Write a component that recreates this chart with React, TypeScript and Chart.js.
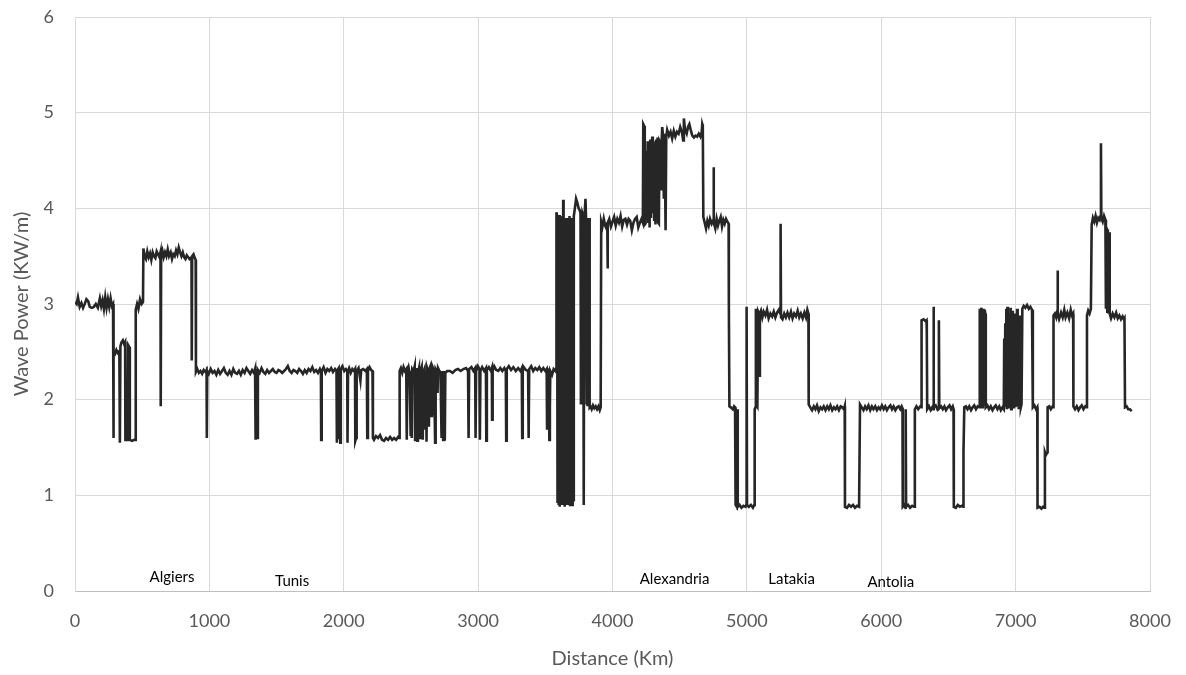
import React, { useEffect, useRef } from "react";
import { Chart, registerables } from "chart.js";

Chart.register(...registerables);

type Pt = [number, number];

// Distance (km), wave power (kW/m), leg by leg
const algiersLeg: Pt[] = [
  [0, 3.02], [12, 3.0], [22, 3.07], [35, 2.97], [48, 3.01], [60, 2.96], [72, 3.0], [85, 3.05], [98, 3.03], [110, 2.97],
  [125, 2.96], [140, 2.97], [155, 3.0], [170, 2.96], [185, 3.06], [195, 2.98], [205, 3.04], [215, 2.95], [225, 3.07], [235, 2.96],
  [245, 3.05], [255, 2.97], [265, 3.06], [275, 2.98], [283, 3.0], [285, 1.6], [289, 2.5], [298, 2.48], [308, 2.52], [318, 2.49],
  [330, 2.51], [334, 1.55], [338, 2.56], [346, 2.6], [356, 2.62], [366, 2.58], [373, 2.6], [375, 1.58], [392, 1.58], [396, 2.57],
  [404, 2.55], [408, 1.58], [425, 1.57], [440, 1.58], [450, 1.58], [452, 2.94], [462, 3.0], [472, 2.95], [484, 3.05], [496, 3.0],
  [506, 3.02], [509, 3.58], [518, 3.5], [528, 3.47], [538, 3.55], [548, 3.49], [558, 3.53], [568, 3.46], [578, 3.54], [588, 3.5],
  [598, 3.48], [608, 3.55], [618, 3.52], [628, 3.49], [636, 3.54], [638, 1.93], [641, 3.52], [650, 3.56], [660, 3.49], [670, 3.54],
  [680, 3.5], [690, 3.57], [700, 3.5], [712, 3.54], [722, 3.47], [732, 3.52], [742, 3.5], [752, 3.56], [762, 3.52], [772, 3.59],
  [782, 3.54], [792, 3.5], [802, 3.54], [812, 3.49], [822, 3.47], [832, 3.51], [842, 3.49], [852, 3.47], [860, 3.48], [867, 3.46],
  [869, 2.41], [872, 3.5], [882, 3.52], [892, 3.48], [898, 3.46],
];

const tunisLeg: Pt[] = [
  [900, 2.29], [910, 2.32], [922, 2.28], [934, 2.3], [946, 2.27], [958, 2.31], [970, 2.29], [979, 2.31], [981, 1.6], [984, 2.3],
  [996, 2.27], [1010, 2.32], [1024, 2.28], [1038, 2.3], [1052, 2.26], [1066, 2.31], [1080, 2.27], [1094, 2.3], [1108, 2.33], [1122, 2.28],
  [1136, 2.26], [1150, 2.3], [1164, 2.26], [1178, 2.32], [1192, 2.28], [1206, 2.27], [1220, 2.3], [1234, 2.26], [1248, 2.31], [1262, 2.28],
  [1276, 2.33], [1290, 2.3], [1304, 2.27], [1318, 2.31], [1332, 2.28], [1340, 2.32], [1342, 1.58], [1346, 2.3], [1352, 2.27], [1357, 1.6],
  [1361, 2.31], [1374, 2.28], [1388, 2.33], [1402, 2.29], [1416, 2.27], [1430, 2.31], [1444, 2.28], [1458, 2.3], [1472, 2.32], [1486, 2.29],
  [1500, 2.28], [1514, 2.31], [1528, 2.3], [1542, 2.28], [1556, 2.3], [1570, 2.32], [1584, 2.35], [1598, 2.3], [1612, 2.28], [1626, 2.31],
  [1640, 2.3], [1654, 2.28], [1668, 2.32], [1682, 2.3], [1696, 2.27], [1710, 2.31], [1724, 2.28], [1738, 2.32], [1752, 2.3], [1766, 2.34],
  [1780, 2.29], [1794, 2.31], [1808, 2.28], [1822, 2.32], [1830, 2.29], [1832, 1.58], [1836, 2.3], [1850, 2.34], [1864, 2.28], [1878, 2.32],
  [1892, 2.3], [1906, 2.33], [1920, 2.29], [1935, 2.32], [1946, 2.3], [1949, 1.55], [1953, 2.31], [1962, 2.33], [1966, 1.6], [1970, 2.3],
  [1974, 1.55], [1978, 2.32], [1990, 2.35], [2004, 2.3], [2016, 2.32], [2026, 2.3], [2028, 1.55], [2032, 2.3], [2040, 2.33], [2052, 2.28],
  [2064, 2.32], [2076, 2.3], [2084, 2.32], [2086, 1.57], [2092, 1.6], [2096, 2.3], [2110, 2.33], [2124, 2.2], [2130, 2.31], [2145, 2.32],
  [2160, 2.3], [2172, 2.32], [2175, 1.6], [2180, 2.3], [2192, 2.34], [2204, 2.31], [2214, 2.3], [2217, 1.6], [2225, 1.58], [2240, 1.62],
  [2255, 1.6], [2270, 1.63], [2285, 1.58], [2300, 1.57], [2315, 1.6], [2330, 1.58], [2345, 1.61], [2360, 1.58], [2375, 1.6], [2390, 1.58],
  [2405, 1.61], [2413, 1.6],
];

const centralLeg: Pt[] = [
  [2416, 2.3], [2425, 2.33], [2435, 2.28], [2445, 2.34], [2455, 2.3], [2465, 2.32], [2469, 1.58], [2473, 2.3], [2482, 2.34], [2490, 2.28],
  [2498, 1.62], [2502, 2.3], [2506, 1.6], [2510, 2.32], [2520, 2.3], [2528, 2.35], [2531, 1.58], [2535, 2.3], [2539, 1.62], [2543, 2.33],
  [2548, 1.57], [2552, 2.28], [2560, 2.33], [2568, 1.6], [2572, 2.3], [2580, 2.34], [2588, 1.58], [2592, 2.29], [2600, 2.32], [2608, 1.7],
  [2612, 2.3], [2616, 1.56], [2620, 2.33], [2626, 2.3], [2630, 1.73], [2634, 2.31], [2645, 2.35], [2652, 1.83], [2656, 2.3], [2660, 1.85],
  [2664, 2.33], [2672, 2.3], [2680, 1.55], [2684, 2.32], [2692, 2.3], [2698, 2.07], [2702, 2.33], [2712, 2.3], [2720, 2.28], [2728, 1.6],
  [2732, 2.3], [2740, 1.58], [2744, 2.3], [2752, 1.57], [2756, 2.28], [2770, 2.3], [2790, 2.3], [2810, 2.28], [2830, 2.31], [2850, 2.32],
  [2870, 2.3], [2890, 2.32], [2910, 2.33], [2925, 2.3], [2929, 1.6], [2933, 2.32], [2950, 2.34], [2965, 2.3], [2978, 2.33], [2981, 1.6],
  [2985, 2.3], [2998, 2.35], [3010, 2.32], [3013, 1.58], [3017, 2.3], [3030, 2.34], [3045, 2.3], [3058, 2.33], [3061, 1.57], [3065, 2.31],
  [3080, 2.34], [3095, 2.3], [3102, 2.33], [3104, 1.79], [3108, 2.3], [3120, 2.35], [3135, 2.31], [3150, 2.3], [3165, 2.33], [3180, 2.3],
  [3195, 2.33], [3206, 2.3], [3209, 1.57], [3213, 2.32], [3228, 2.35], [3245, 2.31], [3262, 2.34], [3280, 2.3], [3298, 2.33], [3315, 2.3],
  [3325, 2.33], [3328, 1.6], [3332, 2.3], [3340, 2.34], [3355, 2.31], [3372, 2.3], [3376, 1.6], [3380, 2.32], [3395, 2.35], [3410, 2.3],
  [3425, 2.33], [3440, 2.31], [3455, 2.34], [3470, 2.3], [3485, 2.33], [3500, 2.3], [3510, 2.32], [3513, 1.7], [3517, 2.3], [3524, 2.31],
  [3530, 1.58], [3534, 1.92], [3537, 2.3], [3550, 2.26], [3562, 2.32], [3575, 2.3], [3582, 2.33],
];

const alexandriaLeg: Pt[] = [
  [3583, 3.96], [3588, 3.92], [3591, 0.92], [3595, 3.9], [3599, 0.9], [3603, 3.93], [3607, 0.88], [3611, 3.9], [3615, 0.94], [3619, 3.88],
  [3623, 0.9], [3627, 3.92], [3631, 0.9], [3633, 4.09], [3636, 0.92], [3640, 3.9], [3644, 0.88], [3648, 3.88], [3652, 0.9], [3656, 3.9],
  [3660, 0.92], [3664, 3.85], [3668, 0.9], [3672, 3.9], [3676, 0.95], [3680, 3.92], [3684, 0.9], [3688, 3.88], [3692, 0.92], [3696, 3.9],
  [3700, 0.9], [3704, 3.9], [3708, 0.95], [3712, 3.92], [3720, 4.0], [3729, 4.1], [3738, 4.06], [3748, 4.0], [3756, 3.98], [3762, 3.95],
  [3765, 1.95], [3769, 3.92], [3773, 1.95], [3777, 3.95], [3782, 3.93], [3786, 0.9], [3790, 3.95], [3795, 4.0], [3799, 4.1], [3803, 3.9],
  [3806, 1.95], [3810, 3.9], [3814, 1.93], [3818, 3.85], [3822, 1.95], [3826, 3.9], [3830, 1.92], [3836, 1.93], [3845, 1.9], [3855, 1.94],
  [3865, 1.91], [3875, 1.93], [3885, 1.9], [3895, 1.93], [3905, 1.89], [3912, 1.92], [3916, 3.86], [3925, 3.81], [3935, 3.89], [3945, 3.82],
  [3955, 3.79], [3961, 3.85], [3963, 3.37], [3966, 3.85], [3976, 3.89], [3988, 3.81], [4000, 3.86], [4012, 3.91], [4024, 3.82], [4036, 3.89],
  [4048, 3.85], [4060, 3.92], [4072, 3.81], [4084, 3.88], [4096, 3.89], [4108, 3.83], [4120, 3.89], [4132, 3.87], [4144, 3.77], [4156, 3.85],
  [4168, 3.89], [4180, 3.91], [4192, 3.8], [4204, 3.85], [4216, 3.89], [4226, 3.85], [4229, 4.88], [4236, 4.86], [4240, 3.83], [4246, 3.84],
  [4250, 4.6], [4256, 3.9], [4262, 4.7], [4266, 3.86], [4271, 4.68], [4276, 3.8], [4281, 4.72], [4286, 3.9], [4291, 4.6], [4296, 4.75],
  [4300, 3.95], [4305, 4.7], [4310, 3.88], [4315, 4.65], [4320, 3.83], [4325, 4.72], [4330, 4.1], [4335, 4.74], [4340, 3.85], [4345, 3.84],
  [4350, 4.7], [4356, 4.68], [4362, 4.2], [4366, 4.72], [4370, 4.85], [4376, 4.76], [4382, 4.1], [4388, 4.78], [4395, 3.77], [4400, 4.75],
  [4407, 4.82], [4420, 4.76], [4432, 4.8], [4444, 4.73], [4456, 4.81], [4468, 4.75], [4480, 4.8], [4492, 4.78], [4504, 4.85], [4516, 4.8],
  [4526, 4.71], [4531, 4.94], [4540, 4.82], [4552, 4.78], [4562, 4.85], [4572, 4.88], [4582, 4.82], [4594, 4.76], [4606, 4.74], [4618, 4.76],
  [4630, 4.75], [4642, 4.78], [4654, 4.75], [4664, 4.8], [4668, 4.88], [4672, 4.86], [4676, 3.91], [4686, 3.85], [4696, 3.79], [4706, 3.87],
  [4716, 3.82], [4726, 3.89], [4738, 3.84], [4748, 3.87], [4752, 4.43], [4755, 3.85], [4765, 3.79], [4775, 3.89], [4785, 3.82], [4795, 3.87],
  [4805, 3.91], [4815, 3.81], [4825, 3.88], [4835, 3.84], [4845, 3.89], [4855, 3.86], [4864, 3.84], [4866, 2.96], [4870, 1.93], [4880, 1.92],
  [4895, 1.9], [4905, 1.93], [4912, 1.92],
];

const latakiaLeg: Pt[] = [
  [4916, 0.9], [4925, 0.88], [4929, 1.9], [4932, 0.88], [4945, 0.9], [4960, 0.87], [4975, 0.89], [4990, 0.88], [4996, 0.9], [4998, 2.97],
  [5001, 0.9], [5015, 0.88], [5030, 0.9], [5045, 0.87], [5055, 0.9], [5058, 1.9], [5064, 1.92], [5067, 2.95], [5071, 1.95], [5078, 1.93],
  [5084, 2.92], [5090, 2.9], [5093, 2.25], [5097, 2.9], [5105, 2.93], [5115, 2.86], [5125, 2.92], [5138, 2.88], [5150, 2.94], [5162, 2.85],
  [5175, 2.9], [5188, 2.87], [5200, 2.92], [5212, 2.86], [5225, 2.91], [5238, 2.94], [5248, 2.9], [5251, 3.84], [5254, 2.86], [5265, 2.84],
  [5278, 2.9], [5290, 2.86], [5302, 2.91], [5315, 2.86], [5328, 2.92], [5340, 2.85], [5352, 2.9], [5365, 2.87], [5378, 2.93], [5390, 2.86],
  [5402, 2.9], [5415, 2.85], [5428, 2.91], [5440, 2.86], [5450, 2.94], [5458, 2.9], [5460, 1.95], [5472, 1.92], [5485, 1.89], [5498, 1.93],
  [5510, 1.9], [5522, 1.94], [5535, 1.88], [5548, 1.92], [5560, 1.9], [5572, 1.93], [5585, 1.89], [5598, 1.93], [5610, 1.9], [5622, 1.94],
  [5635, 1.89], [5648, 1.92], [5660, 1.9], [5672, 1.93], [5685, 1.89], [5698, 1.93], [5710, 1.92], [5722, 1.9], [5728, 1.93],
];

const anatoliaLeg: Pt[] = [
  [5730, 0.88], [5745, 0.87], [5760, 0.9], [5775, 0.88], [5790, 0.9], [5805, 0.87], [5820, 0.89], [5835, 0.88], [5842, 1.95], [5855, 1.92],
  [5868, 1.89], [5880, 1.93], [5892, 1.9], [5905, 1.94], [5918, 1.89], [5930, 1.93], [5942, 1.9], [5955, 1.93], [5968, 1.89], [5980, 1.92],
  [5992, 1.9], [6005, 1.94], [6018, 1.9], [6030, 1.93], [6042, 1.89], [6055, 1.92], [6068, 1.94], [6080, 1.9], [6092, 1.93], [6105, 1.89],
  [6118, 1.92], [6130, 1.93], [6142, 1.9], [6152, 1.93], [6158, 1.91], [6160, 0.88], [6172, 0.9], [6180, 0.87], [6182, 1.9], [6185, 0.88],
  [6200, 0.9], [6215, 0.87], [6230, 0.89], [6245, 0.88], [6250, 1.9], [6262, 1.93], [6275, 1.9], [6290, 1.93], [6298, 1.92], [6300, 2.83],
  [6315, 2.84], [6330, 2.82], [6337, 2.83], [6339, 2.7], [6342, 1.9], [6355, 1.93], [6368, 1.89], [6380, 1.92], [6387, 1.9], [6389, 2.97],
  [6392, 1.92], [6405, 1.94], [6418, 1.9], [6427, 1.92], [6429, 2.83], [6432, 1.91], [6445, 1.93], [6458, 1.9], [6470, 1.93], [6482, 1.89],
  [6495, 1.92], [6508, 1.94], [6520, 1.9], [6532, 1.93], [6538, 1.9], [6540, 0.88], [6555, 0.87], [6570, 0.9], [6585, 0.88], [6600, 0.89],
  [6610, 0.88], [6612, 1.45], [6618, 1.92], [6630, 1.93], [6642, 1.9], [6655, 1.93], [6668, 1.89], [6680, 1.92], [6692, 1.94], [6705, 1.9],
  [6718, 1.93], [6730, 1.92], [6733, 2.95], [6738, 1.95], [6742, 2.93], [6746, 2.96], [6750, 1.92], [6757, 2.92], [6761, 2.95], [6765, 1.95],
  [6770, 2.94], [6774, 2.9], [6778, 1.92], [6790, 1.94], [6802, 1.9], [6815, 1.93], [6828, 1.89], [6840, 1.92], [6852, 1.94], [6865, 1.9],
  [6878, 1.93], [6890, 1.89], [6902, 1.92], [6912, 1.9], [6915, 2.64], [6919, 1.92], [6923, 2.8], [6927, 1.95], [6931, 2.95], [6935, 1.9],
  [6939, 2.97], [6943, 2.0], [6947, 2.9], [6951, 1.92], [6955, 2.85], [6959, 1.95], [6963, 2.96], [6967, 1.9], [6971, 2.8], [6975, 2.0],
  [6979, 2.93], [6983, 1.92], [6987, 2.75], [6991, 1.95], [6995, 2.9], [6999, 1.92], [7003, 2.85], [7007, 1.98], [7011, 2.95], [7015, 1.93],
  [7019, 2.8], [7023, 1.9], [7027, 2.88], [7031, 1.95], [7035, 2.7], [7039, 1.92], [7044, 1.95],
];

const easternLeg: Pt[] = [
  [7050, 2.95], [7060, 2.98], [7072, 2.96], [7085, 2.99], [7098, 2.95], [7110, 2.97], [7122, 2.94], [7127, 2.92], [7129, 1.92], [7140, 1.94],
  [7152, 1.9], [7161, 1.92], [7163, 0.87], [7178, 0.88], [7192, 0.86], [7205, 0.88], [7216, 0.87], [7218, 1.45], [7225, 1.42], [7236, 1.45],
  [7238, 1.92], [7250, 1.93], [7262, 1.9], [7275, 1.93], [7280, 1.92], [7282, 2.88], [7292, 2.9], [7302, 2.86], [7310, 2.92], [7312, 3.35],
  [7315, 2.9], [7325, 2.85], [7338, 2.91], [7350, 2.86], [7362, 2.94], [7372, 2.86], [7385, 2.91], [7398, 2.85], [7410, 2.94], [7420, 2.88],
  [7428, 2.9], [7430, 1.93], [7442, 1.9], [7455, 1.93], [7468, 1.89], [7480, 1.92], [7492, 1.94], [7505, 1.9], [7518, 1.93], [7528, 1.92],
  [7531, 2.88], [7540, 2.93], [7550, 2.9], [7560, 2.95], [7566, 3.83], [7575, 3.9], [7585, 3.86], [7595, 3.92], [7605, 3.85], [7615, 3.9],
  [7625, 3.88], [7632, 3.92], [7635, 4.68], [7638, 3.9], [7648, 3.86], [7658, 3.92], [7668, 3.88], [7672, 2.95], [7678, 3.8], [7682, 2.92],
  [7686, 3.78], [7690, 2.9], [7695, 3.75], [7700, 2.9], [7710, 2.85], [7722, 2.9], [7735, 2.86], [7748, 2.91], [7760, 2.85], [7772, 2.88],
  [7784, 2.84], [7796, 2.87], [7806, 2.84], [7810, 2.85], [7814, 1.92], [7826, 1.93], [7838, 1.9], [7850, 1.9], [7864, 1.88],
];

const cityNames = ["Algiers", "Tunis", "Alexandria", "Latakia", "Antolia"];
const cityDistanceKm = [722, 1616, 4462, 5333, 6071];
const cityLabelHeight = [0.14, 0.1, 0.12, 0.12, 0.09];

const xTickValues = [0, 1000, 2000, 3000, 4000, 5000, 6000, 7000, 8000];
const yTickValues = [0, 1, 2, 3, 4, 5, 6];

const xAxisTitle = "Distance (Km)";
const yAxisTitle = "Wave Power (KW/m)";

const FONT = "Lato, 'Open Sans', 'DejaVu Sans', sans-serif";

const cityLabelPlugin = {
  id: "cityLabels",
  afterDatasetsDraw(chart: any) {
    const { ctx, scales } = chart;
    ctx.save();
    ctx.font = `15px ${FONT}`;
    ctx.fillStyle = "#000000";
    ctx.textAlign = "center";
    ctx.textBaseline = "middle";
    cityNames.forEach((name, i) => {
      const px = scales.x.getPixelForValue(cityDistanceKm[i]);
      const py = scales.y.getPixelForValue(cityLabelHeight[i]);
      ctx.fillText(name, px, py);
    });
    ctx.restore();
  },
};

export default function App() {
  const canvasRef = useRef<HTMLCanvasElement | null>(null);

  useEffect(() => {
    document.body.style.margin = "0";
    const canvas = canvasRef.current;
    if (!canvas) return;
    const all = [...algiersLeg, ...tunisLeg, ...centralLeg, ...alexandriaLeg, ...latakiaLeg, ...anatoliaLeg, ...easternLeg];
    const data = all.map(([x, y]) => ({ x, y }));

    const chart = new Chart(canvas, {
      type: "scatter",
      data: {
        datasets: [
          {
            data,
            showLine: true,
            borderColor: "#262626",
            backgroundColor: "#262626",
            borderWidth: 2.6,
            pointRadius: 0,
            pointHoverRadius: 0,
            tension: 0,
          } as any,
        ],
      },
      options: {
        responsive: false,
        animation: false,
        layout: { padding: { top: 17, right: 36, left: 0, bottom: 0 } },
        plugins: { legend: { display: false }, tooltip: { enabled: false } },
        scales: {
          x: {
            type: "linear",
            min: 0,
            max: 8000,
            afterBuildTicks: (scale: any) => {
              scale.ticks = xTickValues.map((v) => ({ value: v }));
            },
            afterFit: (scale: any) => {
              scale.height = 84;
              scale.paddingLeft = 0;
              scale.paddingRight = 0;
            },
            grid: { color: "#d9d9d9", lineWidth: 1, drawTicks: false },
            border: { color: "#bfbfbf", width: 1 },
            ticks: {
              color: "#595959",
              font: { family: FONT, size: 18 },
              padding: 19,
              maxRotation: 0,
              callback: (v: any) => String(v),
            },
            title: {
              display: true,
              text: xAxisTitle,
              color: "#595959",
              font: { family: FONT, size: 20 },
              padding: { top: 0, bottom: 4 },
            },
          },
          y: {
            type: "linear",
            min: 0,
            max: 6,
            afterBuildTicks: (scale: any) => {
              scale.ticks = yTickValues.map((v) => ({ value: v }));
            },
            afterFit: (scale: any) => {
              scale.width = 75;
              scale.paddingTop = 0;
              scale.paddingBottom = 0;
            },
            grid: { color: "#d9d9d9", lineWidth: 1, drawTicks: false },
            border: { color: "#d9d9d9", width: 1 },
            ticks: {
              color: "#595959",
              font: { family: FONT, size: 18 },
              padding: 21,
              callback: (v: any) => String(v),
            },
            title: {
              display: true,
              text: yAxisTitle,
              color: "#595959",
              font: { family: FONT, size: 20 },
              padding: { top: 10, bottom: 0 },
            },
          },
        },
      },
      plugins: [cityLabelPlugin],
    });

    return () => chart.destroy();
  }, []);

  return (
    <div style={{ position: "fixed", left: 0, top: 0, width: 1186, height: 675, background: "#ffffff" }}>
      <canvas ref={canvasRef} width={1186} height={675} style={{ display: "block" }} />
    </div>
  );
}
